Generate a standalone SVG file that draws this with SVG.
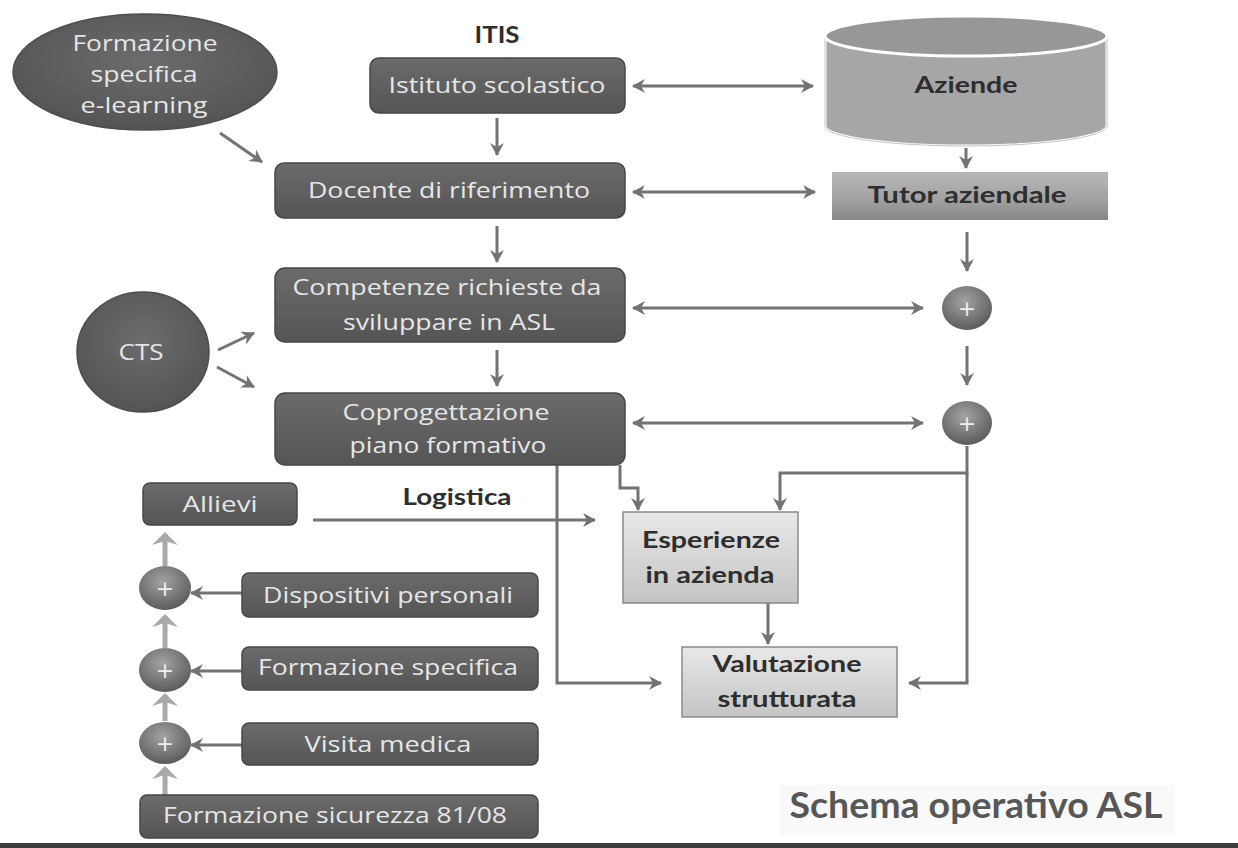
<svg xmlns="http://www.w3.org/2000/svg" width="1238" height="848" viewBox="0 0 1238 848">
<defs>
<style>
.dk{fill:url(#gDark);stroke:#474747;stroke-width:1.5}
.lt{fill:url(#gLight);stroke:#8a8a8a;stroke-width:1.5}
.wt{font-family:"Open Sans","DejaVu Sans",sans-serif;font-size:21px;fill:#e6e6e6;text-anchor:middle}
.bd{font-family:Lato,"Liberation Sans",sans-serif;font-weight:bold;font-size:22px;fill:#2e2e2e;text-anchor:middle}
.ln{fill:none;stroke:#737373;stroke-width:3}
.up{fill:none;stroke:#a9a9a9;stroke-width:5}
.plus{font-family:"DejaVu Sans",sans-serif;font-size:22px;fill:#eeeeee;text-anchor:middle}
</style>
<linearGradient id="gDark" x1="0" y1="0" x2="0" y2="1">
<stop offset="0" stop-color="#6b6b6b"/><stop offset="1" stop-color="#555555"/>
</linearGradient>
<linearGradient id="gLight" x1="0" y1="0" x2="0" y2="1">
<stop offset="0" stop-color="#e8e8e8"/><stop offset="1" stop-color="#c4c4c4"/>
</linearGradient>
<linearGradient id="gTutor" x1="0" y1="0" x2="0" y2="1">
<stop offset="0" stop-color="#b8b8b8"/><stop offset="0.6" stop-color="#a0a0a0"/><stop offset="1" stop-color="#868686"/>
</linearGradient>
<radialGradient id="gBall" cx="0.45" cy="0.35" r="0.65">
<stop offset="0" stop-color="#a3a3a3"/><stop offset="1" stop-color="#5c5c5c"/>
</radialGradient>
<radialGradient id="gEll" cx="0.5" cy="0.4" r="0.6">
<stop offset="0" stop-color="#6c6c6c"/><stop offset="1" stop-color="#545454"/>
</radialGradient>
<marker id="ah" markerUnits="userSpaceOnUse" markerWidth="16" markerHeight="16" refX="13" refY="8" orient="auto-start-reverse" viewBox="0 0 16 16">
<path d="M1,1 L14,8 L1,15 L5,8 z" fill="#737373"/>
</marker>
<marker id="ahUp" markerUnits="userSpaceOnUse" markerWidth="16" markerHeight="28" refX="12" refY="14" orient="auto" viewBox="0 0 16 28">
<path d="M1,1 L14,14 L1,27 L5,14 z" fill="#a9a9a9"/>
</marker>
</defs>
<rect width="1238" height="848" fill="#ffffff"/>

<g id="connectors">
<line class="ln" x1="220" y1="133" x2="262" y2="162" marker-end="url(#ah)"/>
<line class="ln" x1="497" y1="118" x2="497" y2="155" marker-end="url(#ah)"/>
<line class="ln" x1="497" y1="226" x2="497" y2="262" marker-end="url(#ah)"/>
<line class="ln" x1="497" y1="350" x2="497" y2="386" marker-end="url(#ah)"/>
<line class="ln" x1="633" y1="86" x2="813" y2="86" marker-start="url(#ah)" marker-end="url(#ah)"/>
<line class="ln" x1="633" y1="192" x2="815" y2="192" marker-start="url(#ah)" marker-end="url(#ah)"/>
<line class="ln" x1="966" y1="148" x2="966" y2="168" marker-end="url(#ah)"/>
<line class="ln" x1="967" y1="232" x2="967" y2="271" marker-end="url(#ah)"/>
<line class="ln" x1="633" y1="308" x2="923" y2="308" marker-start="url(#ah)" marker-end="url(#ah)"/>
<line class="ln" x1="967" y1="346" x2="967" y2="385" marker-end="url(#ah)"/>
<line class="ln" x1="633" y1="423" x2="923" y2="423" marker-start="url(#ah)" marker-end="url(#ah)"/>
<line class="ln" x1="218" y1="350" x2="254" y2="333" marker-end="url(#ah)"/>
<line class="ln" x1="217" y1="367" x2="254" y2="387" marker-end="url(#ah)"/>
<path class="ln" d="M620,465 V488 H638 V510" marker-end="url(#ah)"/>
<path class="ln" d="M967,446 V473 H780 V510" marker-end="url(#ah)"/>
<path class="ln" d="M967,473 V683 H909" marker-end="url(#ah)"/>
<path class="ln" d="M557,465 V683 H661" marker-end="url(#ah)"/>
<line class="ln" x1="768" y1="603" x2="768" y2="644" marker-end="url(#ah)"/>
<line class="ln" x1="313" y1="520" x2="595" y2="520" marker-end="url(#ah)"/>
<line class="ln" x1="242" y1="593" x2="191" y2="593" marker-end="url(#ah)"/>
<line class="ln" x1="242" y1="671" x2="191" y2="671" marker-end="url(#ah)"/>
<line class="ln" x1="242" y1="745" x2="191" y2="745" marker-end="url(#ah)"/>
<line class="up" x1="165" y1="795" x2="165" y2="768" marker-end="url(#ahUp)"/>
<line class="up" x1="165" y1="721" x2="165" y2="695" marker-end="url(#ahUp)"/>
<line class="up" x1="165" y1="648" x2="165" y2="616" marker-end="url(#ahUp)"/>
<line class="up" x1="165" y1="566" x2="165" y2="534" marker-end="url(#ahUp)"/>
</g>

<g id="n-elearning">
<ellipse cx="145" cy="72" rx="132" ry="58" fill="url(#gEll)" stroke="#4d4d4d" stroke-width="1.5"/>
<text class="wt" x="145" y="51" font-size="23" textLength="145" lengthAdjust="spacingAndGlyphs">Formazione</text>
<text class="wt" x="144" y="82" font-size="23" textLength="107" lengthAdjust="spacingAndGlyphs">specifica</text>
<text class="wt" x="144" y="113" font-size="23" textLength="127" lengthAdjust="spacingAndGlyphs">e-learning</text>
</g>

<g id="n-itis"><text class="bd" x="497" y="43" textLength="45" lengthAdjust="spacingAndGlyphs">ITIS</text></g>

<g id="n-istituto">
<rect class="dk" x="370" y="58" width="255" height="55" rx="9"/>
<text class="wt" x="497" y="93" textLength="217" lengthAdjust="spacingAndGlyphs">Istituto scolastico</text>
</g>

<g id="n-docente">
<rect class="dk" x="275" y="163" width="350" height="55" rx="9"/>
<text class="wt" x="449" y="198" textLength="282" lengthAdjust="spacingAndGlyphs">Docente di riferimento</text>
</g>

<g id="n-competenze">
<rect class="dk" x="275" y="268" width="350" height="74" rx="10"/>
<text class="wt" x="447" y="295" textLength="309" lengthAdjust="spacingAndGlyphs">Competenze richieste da</text>
<text class="wt" x="449" y="330" textLength="212" lengthAdjust="spacingAndGlyphs">sviluppare in ASL</text>
</g>

<g id="n-coprogettazione">
<rect class="dk" x="275" y="393" width="350" height="72" rx="10"/>
<text class="wt" x="446" y="420" textLength="207" lengthAdjust="spacingAndGlyphs">Coprogettazione</text>
<text class="wt" x="448" y="453" textLength="197" lengthAdjust="spacingAndGlyphs">piano formativo</text>
</g>

<g id="n-cts">
<ellipse cx="143" cy="352" rx="66" ry="60" fill="url(#gEll)" stroke="#4d4d4d" stroke-width="1.5"/>
<text class="wt" x="141" y="360" font-size="23" textLength="45" lengthAdjust="spacingAndGlyphs">CTS</text>
</g>

<g id="n-aziende">
<path d="M825,36 V126 A141,20 0 0 0 1107,126 V36" fill="#a6a6a6" stroke="#ffffff" stroke-width="3"/>
<path d="M825,36 V126 A141,20 0 0 0 1107,126 V36" fill="none" stroke="#c4c4c4" stroke-width="1"/>
<ellipse cx="966" cy="36" rx="141" ry="20" fill="#979797" stroke="#ffffff" stroke-width="3"/>
<text class="bd" x="966" y="93" textLength="103" lengthAdjust="spacingAndGlyphs">Aziende</text>
</g>

<g id="n-tutor">
<rect x="832" y="172" width="276" height="48" fill="url(#gTutor)"/>
<text class="bd" x="967" y="203" textLength="199" lengthAdjust="spacingAndGlyphs">Tutor aziendale</text>
</g>

<g id="n-plus1">
<ellipse cx="967" cy="308" rx="25" ry="22" fill="url(#gBall)"/>
<text class="plus" x="967" y="316">+</text>
</g>
<g id="n-plus2">
<ellipse cx="967" cy="423" rx="25" ry="22" fill="url(#gBall)"/>
<text class="plus" x="967" y="431">+</text>
</g>

<g id="n-logistica"><text class="bd" x="457" y="505" textLength="109" lengthAdjust="spacingAndGlyphs">Logistica</text></g>

<g id="n-esperienze">
<rect class="lt" x="623" y="512" width="175" height="91"/>
<text class="bd" x="711" y="548" textLength="138" lengthAdjust="spacingAndGlyphs">Esperienze</text>
<text class="bd" x="710" y="583" textLength="129" lengthAdjust="spacingAndGlyphs">in azienda</text>
</g>

<g id="n-valutazione">
<rect class="lt" x="682" y="647" width="215" height="70"/>
<text class="bd" x="787" y="672" textLength="149" lengthAdjust="spacingAndGlyphs">Valutazione</text>
<text class="bd" x="787" y="707" textLength="139" lengthAdjust="spacingAndGlyphs">strutturata</text>
</g>

<g id="n-allievi">
<rect class="dk" x="143" y="483" width="154" height="42" rx="7"/>
<text class="wt" x="220" y="512" textLength="75" lengthAdjust="spacingAndGlyphs">Allievi</text>
</g>

<g id="n-dispositivi">
<rect class="dk" x="242" y="573" width="296" height="44" rx="7"/>
<text class="wt" x="388" y="603" textLength="250" lengthAdjust="spacingAndGlyphs">Dispositivi personali</text>
</g>

<g id="n-formspec">
<rect class="dk" x="242" y="647" width="296" height="43" rx="7"/>
<text class="wt" x="388" y="675" textLength="260" lengthAdjust="spacingAndGlyphs">Formazione specifica</text>
</g>

<g id="n-visita">
<rect class="dk" x="242" y="723" width="296" height="42" rx="7"/>
<text class="wt" x="388" y="752" textLength="167" lengthAdjust="spacingAndGlyphs">Visita medica</text>
</g>

<g id="n-sicurezza">
<rect class="dk" x="140" y="795" width="398" height="43" rx="7"/>
<text class="wt" x="335" y="823" textLength="344" lengthAdjust="spacingAndGlyphs">Formazione sicurezza 81/08</text>
</g>

<g id="n-lplus1">
<ellipse cx="165" cy="588" rx="26" ry="22" fill="url(#gBall)"/>
<text class="plus" x="165" y="596">+</text>
</g>
<g id="n-lplus2">
<ellipse cx="165" cy="670" rx="26" ry="22" fill="url(#gBall)"/>
<text class="plus" x="165" y="678">+</text>
</g>
<g id="n-lplus3">
<ellipse cx="165" cy="743" rx="26" ry="21" fill="url(#gBall)"/>
<text class="plus" x="165" y="751">+</text>
</g>

<g id="n-title">
<rect x="780" y="785" width="395" height="50" fill="#f9f9f9"/>
<text x="976" y="818" font-family="Lato,'Liberation Sans',sans-serif" font-weight="bold" font-size="36" fill="#575757" text-anchor="middle" textLength="373" lengthAdjust="spacingAndGlyphs">Schema operativo ASL</text>
</g>

<rect x="0" y="843" width="1238" height="5" fill="#3d3d3d"/>
</svg>
